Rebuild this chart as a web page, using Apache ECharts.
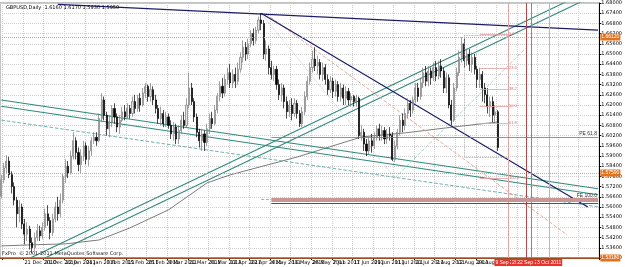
<!DOCTYPE html>
<html>
<head>
<meta charset="utf-8">
<script src="https://cdn.jsdelivr.net/npm/echarts@6/dist/echarts.min.js"></script>
<style>
  html, body { margin: 0; padding: 0; background: #fff; }
  #chart { width: 625px; height: 267px; }
</style>
</head>
<body>
<div id="chart"></div>
<script>
// GBPUSD daily, first bar 8 Dec 2010 (weekdays only), plus empty future bars
const firstDay = '2010-12-08';
const barCount = 233;
const MONTHS = ['Jan', 'Feb', 'Mar', 'Apr', 'May', 'Jun', 'Jul', 'Aug', 'Sep', 'Oct', 'Nov', 'Dec'];

const opens = [1.5665,1.5760,1.5830,1.5870,1.5790,1.5720,1.5640,1.5560,1.5600,1.5500,1.5440,1.5470,1.5390,1.5360,1.5420,1.5460,1.5430,1.5480,1.5560,1.5520,
  1.5450,1.5530,1.5600,1.5560,1.5640,1.5780,1.5840,1.5800,1.5900,1.5990,1.5920,1.5850,1.5900,1.5960,1.5880,1.5930,1.5990,1.6010,1.5990,1.6120,
  1.6230,1.6140,1.6060,1.6100,1.6180,1.6130,1.6070,1.6110,1.6160,1.6130,1.6180,1.6150,1.6220,1.6180,1.6240,1.6200,1.6270,1.6310,1.6250,1.6290,
  1.6230,1.6180,1.6120,1.6150,1.6090,1.6130,1.6080,1.6030,1.6070,1.6000,1.6050,1.6110,1.6080,1.6200,1.6300,1.6220,1.6130,1.6040,1.5990,1.6030,
  1.5980,1.6060,1.6120,1.6090,1.6170,1.6250,1.6310,1.6270,1.6350,1.6390,1.6330,1.6380,1.6340,1.6410,1.6480,1.6540,1.6500,1.6560,1.6620,1.6580,
  1.6640,1.6700,1.6680,1.6500,1.6530,1.6420,1.6380,1.6410,1.6320,1.6260,1.6300,1.6220,1.6160,1.6200,1.6150,1.6210,1.6150,1.6090,1.6160,1.6250,
  1.6340,1.6420,1.6470,1.6430,1.6450,1.6380,1.6420,1.6350,1.6290,1.6340,1.6280,1.6320,1.6250,1.6300,1.6240,1.6280,1.6230,1.6250,1.6220,1.6240,
  1.6020,1.6040,1.5970,1.5930,1.5990,1.5960,1.6010,1.6060,1.6020,1.6050,1.6000,1.6030,1.6020,1.5880,1.5960,1.6040,1.6110,1.6080,1.6150,1.6210,
  1.6170,1.6230,1.6300,1.6250,1.6330,1.6390,1.6340,1.6400,1.6360,1.6420,1.6370,1.6430,1.6400,1.6300,1.6360,1.6200,1.6110,1.6300,1.6390,1.6480,
  1.6560,1.6460,1.6500,1.6440,1.6480,1.6410,1.6350,1.6380,1.6300,1.6260,1.6190,1.6220,1.6140,1.6160];
const closes = [1.5760,1.5830,1.5870,1.5790,1.5720,1.5640,1.5560,1.5600,1.5500,1.5440,1.5470,1.5390,1.5360,1.5420,1.5460,1.5430,1.5480,1.5560,1.5520,1.5450,
  1.5530,1.5600,1.5560,1.5640,1.5780,1.5840,1.5800,1.5900,1.5990,1.5920,1.5850,1.5900,1.5960,1.5880,1.5930,1.5990,1.6010,1.5990,1.6120,1.6230,
  1.6140,1.6060,1.6100,1.6180,1.6130,1.6070,1.6110,1.6160,1.6130,1.6180,1.6150,1.6220,1.6180,1.6240,1.6200,1.6270,1.6310,1.6250,1.6290,1.6230,
  1.6180,1.6120,1.6150,1.6090,1.6130,1.6080,1.6030,1.6070,1.6000,1.6050,1.6110,1.6080,1.6200,1.6300,1.6220,1.6130,1.6040,1.5990,1.6030,1.5980,
  1.6060,1.6120,1.6090,1.6170,1.6250,1.6310,1.6270,1.6350,1.6390,1.6330,1.6380,1.6340,1.6410,1.6480,1.6540,1.6500,1.6560,1.6620,1.6580,1.6640,
  1.6700,1.6680,1.6500,1.6530,1.6420,1.6380,1.6410,1.6320,1.6260,1.6300,1.6220,1.6160,1.6200,1.6150,1.6210,1.6150,1.6090,1.6160,1.6250,1.6340,
  1.6420,1.6470,1.6430,1.6450,1.6380,1.6420,1.6350,1.6290,1.6340,1.6280,1.6320,1.6250,1.6300,1.6240,1.6280,1.6230,1.6250,1.6220,1.6240,1.6020,
  1.6040,1.5970,1.5930,1.5990,1.5960,1.6010,1.6060,1.6020,1.6050,1.6000,1.6030,1.6020,1.5880,1.5960,1.6040,1.6110,1.6080,1.6150,1.6210,1.6170,
  1.6230,1.6300,1.6250,1.6330,1.6390,1.6340,1.6400,1.6360,1.6420,1.6370,1.6430,1.6400,1.6300,1.6360,1.6200,1.6110,1.6300,1.6390,1.6480,1.6560,
  1.6460,1.6500,1.6440,1.6480,1.6410,1.6350,1.6380,1.6300,1.6260,1.6190,1.6220,1.6140,1.6160,1.5950];
const lows = [1.5650,1.5740,1.5800,1.5770,1.5680,1.5610,1.5480,1.5510,1.5470,1.5380,1.5400,1.5350,1.5330,1.5340,1.5400,1.5400,1.5410,1.5460,1.5490,1.5410,
  1.5430,1.5510,1.5520,1.5540,1.5620,1.5740,1.5770,1.5790,1.5880,1.5880,1.5810,1.5800,1.5870,1.5850,1.5840,1.5900,1.5970,1.5960,1.5980,1.6100,
  1.6110,1.6020,1.6010,1.6070,1.6090,1.6040,1.6030,1.6100,1.6110,1.6120,1.6120,1.6130,1.6150,1.6160,1.6160,1.6190,1.6240,1.6220,1.6220,1.6200,
  1.6150,1.6090,1.6080,1.6070,1.6070,1.6060,1.6000,1.5990,1.5970,1.5970,1.6030,1.6060,1.6070,1.6180,1.6200,1.6100,1.6010,1.5950,1.5930,1.5930,
  1.5960,1.6030,1.6060,1.6080,1.6150,1.6220,1.6240,1.6250,1.6320,1.6300,1.6300,1.6300,1.6320,1.6390,1.6450,1.6460,1.6470,1.6540,1.6550,1.6560,
  1.6620,1.6640,1.6470,1.6460,1.6380,1.6350,1.6340,1.6290,1.6230,1.6220,1.6180,1.6120,1.6130,1.6110,1.6130,1.6120,1.6070,1.6070,1.6140,1.6230,
  1.6320,1.6390,1.6400,1.6380,1.6350,1.6340,1.6320,1.6260,1.6270,1.6240,1.6250,1.6220,1.6220,1.6200,1.6200,1.6200,1.6190,1.6190,1.6190,1.6000,
  1.5990,1.5930,1.5900,1.5910,1.5920,1.5940,1.5990,1.5990,1.5990,1.5970,1.5970,1.5990,1.5870,1.5865,1.5940,1.6020,1.6040,1.6050,1.6120,1.6130,
  1.6150,1.6210,1.6220,1.6230,1.6300,1.6310,1.6310,1.6320,1.6340,1.6340,1.6350,1.6360,1.6270,1.6270,1.6180,1.6080,1.6100,1.6280,1.6370,1.6450,
  1.6420,1.6430,1.6400,1.6390,1.6380,1.6300,1.6300,1.6220,1.6210,1.6150,1.6130,1.6100,1.6090,1.5930];
const highs = [1.5790,1.5860,1.5905,1.5895,1.5810,1.5745,1.5660,1.5640,1.5620,1.5530,1.5510,1.5490,1.5420,1.5450,1.5500,1.5490,1.5510,1.5590,1.5610,1.5540,
  1.5560,1.5630,1.5660,1.5680,1.5800,1.5880,1.5870,1.5930,1.6040,1.6010,1.5950,1.5940,1.5990,1.5980,1.5960,1.6010,1.6040,1.6040,1.6150,1.6270,
  1.6250,1.6160,1.6140,1.6200,1.6210,1.6150,1.6140,1.6190,1.6200,1.6210,1.6200,1.6250,1.6260,1.6260,1.6270,1.6300,1.6330,1.6320,1.6330,1.6310,
  1.6260,1.6200,1.6190,1.6170,1.6160,1.6150,1.6110,1.6100,1.6090,1.6080,1.6140,1.6160,1.6240,1.6390,1.6330,1.6240,1.6150,1.6060,1.6060,1.6050,
  1.6090,1.6150,1.6160,1.6200,1.6270,1.6340,1.6360,1.6380,1.6420,1.6440,1.6410,1.6420,1.6450,1.6510,1.6580,1.6570,1.6590,1.6640,1.6650,1.6660,
  1.6720,1.6740,1.6700,1.6580,1.6550,1.6460,1.6430,1.6430,1.6350,1.6330,1.6320,1.6250,1.6230,1.6240,1.6240,1.6230,1.6170,1.6190,1.6280,1.6370,
  1.6450,1.6520,1.6540,1.6490,1.6470,1.6450,1.6440,1.6380,1.6370,1.6360,1.6350,1.6340,1.6330,1.6320,1.6310,1.6300,1.6270,1.6260,1.6260,1.6250,
  1.6080,1.6060,1.6000,1.6010,1.6030,1.6040,1.6080,1.6090,1.6080,1.6070,1.6060,1.6070,1.6040,1.5990,1.6060,1.6140,1.6150,1.6180,1.6240,1.6230,
  1.6250,1.6330,1.6330,1.6360,1.6420,1.6430,1.6430,1.6420,1.6450,1.6460,1.6460,1.6470,1.6420,1.6390,1.6380,1.6230,1.6330,1.6420,1.6520,1.6600,
  1.6590,1.6530,1.6530,1.6510,1.6500,1.6430,1.6420,1.6400,1.6330,1.6300,1.6250,1.6250,1.6200,1.6170];

// moving average, [bar index, price]
const maPoints = [[0,1.5371],[11,1.5377],[25,1.5383],[38,1.5406],[50,1.5477],[65,1.5583],[80,1.5742],
  [89,1.5789],[115,1.5894],[140,1.6012],[157,1.6036],[176,1.6071],[193,1.6100]];

// trendlines, [bar index, price]
const navyTop = [[22, 1.6792], [232, 1.6641]];
const navyDown = [[101, 1.6740], [228, 1.5600]];
const channelUpper = [[7, 1.5269], [228, 1.6868]];
const channelLower = [[7, 1.5228], [228, 1.6826]];
const fallUpper = [[0, 1.6229], [232, 1.5707]];
const fallLower = [[0, 1.6193], [232, 1.5672]];
const fallDashed = [[0, 1.6111], [232, 1.5601]];
const salmonDashed = [[103, 1.6735], [220, 1.5436]];
const legAB = [[101, 1.6740], [153, 1.5771]];
const legBC = [[153, 1.5771], [204, 1.6535]];

// horizontal price levels
const dottedLevels = [1.6612, 1.5759];
const solidLevel = 1.5318;
const bidPrice = 1.5950;
const pe618 = 1.6009;
const fe100 = 1.5645;
const fe100Low = 1.5622;
const feStart = 105;

// fibonacci retracement
const fibHigh = 1.6618;
const fibLow = 1.5771;
const fibRatios = [0, 23.6, 38.2, 50.0, 61.8, 100.0];
const fibFrom = 186, fibTo = 197;
const boxTop = 1.6612, boxBottom = 1.5894, boxFrom = 180;

// vertical lines in the future area
const vLines = [197, 204, 206, 213];
const vColors = ['#e6a3a3', '#b04848', '#d06a6a', '#e6a3a3'];

const dates = [];
let day = new Date(firstDay + 'T00:00:00Z');
while (dates.length < barCount) {
    const wd = day.getUTCDay();
    if (wd !== 0 && wd !== 6) dates.push(day.toISOString().slice(0, 10));
    day.setUTCDate(day.getUTCDate() + 1);
}
const lastBar = closes.length - 1;

function fmtDate(s) {
    const p = s.split('-');
    return (+p[2]) + ' ' + MONTHS[+p[1] - 1] + ' ' + p[0];
}

const candles = opens.map((o, i) => [o, closes[i], lows[i], highs[i]]);

function seg(data, color, width, type) {
    return {
        type: 'line', data: data, symbol: 'none', silent: true, z: 3,
        lineStyle: { color: color, width: width, type: type || 'solid' },
    };
}

const marks = [];
dottedLevels.forEach(v => marks.push({
    yAxis: v,
    lineStyle: { color: '#e2a064', type: 'dotted', width: 1 },
    label: { show: true, position: 'end', distance: 1, formatter: v.toFixed(5), backgroundColor: '#e2721c', color: '#fff', fontSize: 5, padding: [1, 1] },
}));
marks.push({
    yAxis: solidLevel,
    lineStyle: { color: '#d0662a', type: 'solid', width: 1.5 },
    label: { show: true, position: 'end', distance: 1, formatter: solidLevel.toFixed(5), backgroundColor: '#e2721c', color: '#fff', fontSize: 5, padding: [1, 1] },
});
marks.push({
    yAxis: bidPrice,
    lineStyle: { opacity: 0 },
    label: { show: true, position: 'end', distance: 1, formatter: bidPrice.toFixed(5), backgroundColor: '#000', color: '#fff', fontSize: 5, padding: [1, 1] },
});
vLines.forEach((idx, k) => marks.push({
    xAxis: dates[idx],
    lineStyle: { color: vColors[k], type: 'solid', width: 1 },
    label: { show: true, position: 'start', distance: 1, formatter: fmtDate(dates[idx]), backgroundColor: '#e8322a', color: '#fff', fontSize: 5, padding: [1, 1] },
}));
marks.push([
    { coord: [feStart, pe618], lineStyle: { color: '#777', width: 0.8, type: 'solid' },
      label: { show: true, position: 'insideEndTop', distance: 1, formatter: 'PE 61.8', fontSize: 5, color: '#333' } },
    { coord: [barCount - 1, pe618] },
]);
marks.push([
    { coord: [feStart - 4, fe100], lineStyle: { color: '#999', width: 0.8 }, label: { show: false } },
    { coord: [feStart, fe100] },
]);
marks.push([
    { coord: [feStart, fe100], lineStyle: { color: '#c99696', width: 4, type: 'solid' },
      label: { show: true, position: 'insideEndTop', distance: 1, formatter: 'FE 100.0', fontSize: 5, color: '#333' } },
    { coord: [barCount - 1, fe100] },
]);
marks.push([
    { coord: [feStart, fe100Low], lineStyle: { color: '#a03434', width: 1, type: 'solid' }, label: { show: false } },
    { coord: [barCount - 1, fe100Low] },
]);
fibRatios.forEach(r => {
    const p = fibHigh - (fibHigh - fibLow) * r / 100;
    marks.push([
        { coord: [fibFrom, p], lineStyle: { color: '#e4a0a0', width: 0.8, type: 'solid' },
          label: { show: true, position: 'end', distance: 1, formatter: r.toFixed(1), fontSize: 4, color: '#d07070' } },
        { coord: [fibTo, p] },
    ]);
});
marks.push([
    { coord: [boxFrom, boxTop], lineStyle: { color: '#999', width: 0.8, type: 'dotted' }, label: { show: false } },
    { coord: [fibTo, boxTop] },
]);
marks.push([
    { coord: [boxFrom, boxTop], lineStyle: { color: '#999', width: 0.8, type: 'dotted' }, label: { show: false } },
    { coord: [boxFrom, boxBottom] },
]);
marks.push([
    { coord: [boxFrom, boxBottom], lineStyle: { color: '#999', width: 0.8, type: 'dotted' }, label: { show: false } },
    { coord: [fibTo, boxBottom] },
]);

const last = lastBar;
const titleText = 'GBPUSD,Daily  ' + opens[last].toFixed(4) + ' ' + highs[last].toFixed(4) + ' ' +
    lows[last].toFixed(4) + ' ' + closes[last].toFixed(4);

const chart = echarts.init(document.getElementById('chart'), null, { renderer: 'canvas' });
chart.setOption({
    animation: false,
    backgroundColor: '#fff',
    title: {
        text: titleText, left: 1, top: 0,
        textStyle: { fontSize: 5, fontWeight: 'normal', color: '#000', fontFamily: 'DejaVu Sans' },
    },
    graphic: [{
        type: 'text', left: 2, top: 251, z: 10,
        style: { text: 'FxPro  \u00a9 2001-2011 MetaQuotes Software Corp.', fontSize: 5, fill: '#222', fontFamily: 'DejaVu Sans' },
    }],
    grid: { left: 0, right: 20, top: 3, bottom: 9, show: true, borderColor: '#888', borderWidth: 1 },
    xAxis: {
        type: 'category', data: dates, boundaryGap: true,
        axisLine: { lineStyle: { color: '#000', width: 1 } },
        axisTick: { show: true, length: 2, interval: (i) => i % 8 === 1 && i <= lastBar, lineStyle: { color: '#000' } },
        axisLabel: {
            fontSize: 5, color: '#000', margin: 2, fontFamily: 'DejaVu Sans',
            interval: (i) => i % 8 === 1 && i <= lastBar,
            formatter: fmtDate, align: 'left',
        },
        splitLine: { show: true, interval: (i) => i % 8 === 1, lineStyle: { color: '#cfcfcf', type: 'dotted', width: 1 } },
    },
    yAxis: {
        type: 'value', position: 'right', min: 1.53, max: 1.68, interval: 0.006, scale: true,
        axisLine: { show: true, lineStyle: { color: '#000', width: 1 } },
        axisTick: { show: true, length: 2, lineStyle: { color: '#000' } },
        axisLabel: { fontSize: 5, color: '#000', margin: 2, fontFamily: 'DejaVu Sans', formatter: (v) => v.toFixed(5) },
        splitLine: { show: true, lineStyle: { color: '#cfcfcf', type: 'dotted', width: 1 } },
    },
    series: [
        seg(maPoints, '#5a5a5a', 0.8),
        seg(fallDashed, '#5fa9a6', 0.9, 'dashed'),
        seg(fallUpper, '#2f8a7c', 1.1),
        seg(fallLower, '#2f8a7c', 1.1),
        seg(channelUpper, '#2f8a7c', 1.1),
        seg(channelLower, '#2f8a7c', 1.1),
        seg(salmonDashed, '#e3a08c', 0.9, 'dashed'),
        seg(legAB, '#b8b8b8', 0.8, 'dotted'),
        seg(legBC, '#9fd0c0', 0.9, 'dashed'),
        seg(navyTop, '#1c1c6a', 1.2),
        seg(navyDown, '#1c1c6a', 1.2),
        {
            type: 'candlestick',
            data: candles,
            barWidth: 1.6,
            z: 4,
            itemStyle: { color: '#e4e4e4', color0: '#000', borderColor: '#7a7a7a', borderColor0: '#000', borderWidth: 0.7 },
            markLine: { symbol: ['none', 'none'], silent: true, animation: false, data: marks },
        },
    ],
});
</script>
</body>
</html>
